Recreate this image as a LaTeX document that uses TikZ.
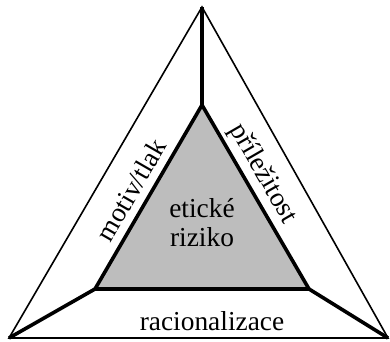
\documentclass[tikz,border=0pt]{standalone}
\usepackage{fontspec}
\setmainfont{Liberation Serif}
\begin{document}
\begin{tikzpicture}[x=1bp,y=-1bp,
  thinline/.style={line width=1.6bp,line join=miter},
  thickline/.style={line width=3.6bp,line join=miter},
  lbl/.style={font=\fontsize{27.5}{29}\selectfont,inner sep=0pt}]
\useasboundingbox (0,0) rectangle (390,342);
\coordinate (A) at (202,7);
\coordinate (B) at (9,338);
\coordinate (C) at (388,338);
\coordinate (a) at (202,105);
\coordinate (b) at (95,289);
\coordinate (c) at (309,289);
\draw[thinline] (A) -- (B) -- (C) -- cycle;
\draw[thickline,fill=gray!52] (a) -- (b) -- (c) -- cycle;
\draw[thickline] (A) -- (a);
\draw[thickline] (B) -- (b);
\draw[thickline] (C) -- (c);
\node[lbl,rotate=60] (m) at (131,190) {motiv/tlak};
\node[lbl,rotate=-60] (p) at (263,174) {příležitost};
\node[lbl] (r) at (212,321) {racionalizace};
\node[lbl,align=center] (e) at (202,223) {etické\\riziko};
\end{tikzpicture}
\end{document}
